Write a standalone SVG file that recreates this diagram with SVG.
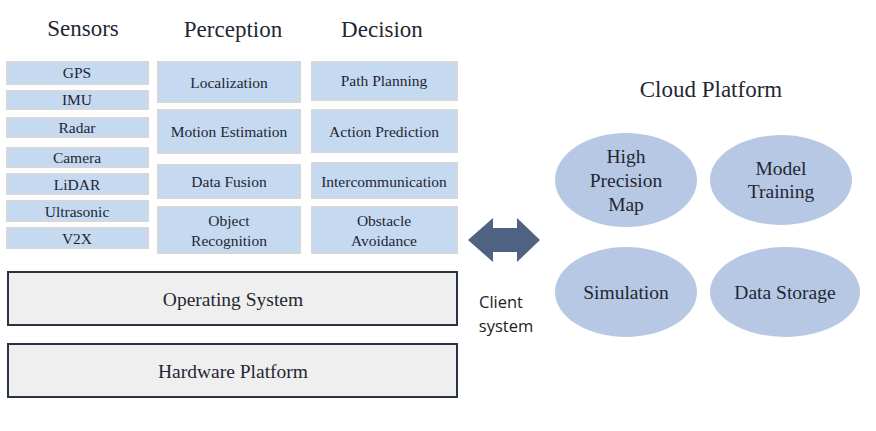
<svg xmlns="http://www.w3.org/2000/svg" width="876" height="431" viewBox="0 0 876 431">
<style>
.hdr{font-family:"Liberation Serif",serif;font-size:23px;fill:#1f2733;text-anchor:middle}
.box{fill:#c5d9f1;stroke:#d4d8dd;stroke-width:2}
.t{font-family:"Liberation Serif",serif;font-size:15.5px;fill:#1f2733;text-anchor:middle}
.big{fill:#efefef;stroke:#2b3443;stroke-width:2}
.bt{font-family:"Liberation Serif",serif;font-size:19.5px;fill:#1f2733;text-anchor:middle}
.ell{fill:#b7c8e4}
.et{font-family:"Liberation Serif",serif;font-size:19.5px;fill:#1f2733;text-anchor:middle}
.cs{font-family:"Open Sans","Liberation Sans",sans-serif;font-size:16.5px;fill:#222;text-anchor:middle}
</style>
<rect width="876" height="431" fill="#ffffff"/>
<text class="hdr" x="83" y="36">Sensors</text>
<text class="hdr" x="233" y="37">Perception</text>
<text class="hdr" x="382" y="37">Decision</text>

<g id="gps"><rect class="box" x="7" y="62" width="141" height="22"/><text class="t" x="77" y="78">GPS</text></g>
<g id="imu"><rect class="box" x="7" y="91" width="141" height="18"/><text class="t" x="77" y="105">IMU</text></g>
<g id="radar"><rect class="box" x="7" y="118" width="141" height="19"/><text class="t" x="77" y="133">Radar</text></g>
<g id="camera"><rect class="box" x="7" y="148" width="141" height="19"/><text class="t" x="77" y="163">Camera</text></g>
<g id="lidar"><rect class="box" x="7" y="174" width="141" height="20"/><text class="t" x="77" y="190">LiDAR</text></g>
<g id="ultrasonic"><rect class="box" x="7" y="201" width="141" height="20"/><text class="t" x="77" y="217">Ultrasonic</text></g>
<g id="v2x"><rect class="box" x="7" y="228" width="141" height="20"/><text class="t" x="77" y="244">V2X</text></g>

<g id="localization"><rect class="box" x="158" y="62" width="142" height="40"/><text class="t" x="229" y="88">Localization</text></g>
<g id="motion"><rect class="box" x="158" y="110" width="142" height="43"/><text class="t" x="229" y="137">Motion Estimation</text></g>
<g id="fusion"><rect class="box" x="158" y="165" width="142" height="33"/><text class="t" x="229" y="187">Data Fusion</text></g>
<g id="object"><rect class="box" x="158" y="207" width="142" height="46"/><text class="t" x="229" y="226">Object</text><text class="t" x="229" y="246">Recognition</text></g>

<g id="path"><rect class="box" x="312" y="62" width="145" height="38"/><text class="t" x="384" y="86">Path Planning</text></g>
<g id="action"><rect class="box" x="312" y="110" width="145" height="42"/><text class="t" x="384" y="137">Action Prediction</text></g>
<g id="intercom"><rect class="box" x="312" y="163" width="145" height="35"/><text class="t" x="384" y="187">Intercommunication</text></g>
<g id="obstacle"><rect class="box" x="312" y="207" width="145" height="46"/><text class="t" x="384" y="226">Obstacle</text><text class="t" x="384" y="246">Avoidance</text></g>

<g id="os"><rect class="big" x="8" y="272" width="449" height="53"/><text class="bt" x="233" y="306">Operating System</text></g>
<g id="hw"><rect class="big" x="8" y="344" width="449" height="53"/><text class="bt" x="233" y="378">Hardware Platform</text></g>

<g id="connectors">
<polygon points="468,240 493,218 493,228 517,228 517,218 540,240 517,262 517,252 493,252 493,262" fill="#4f6283"/>
</g>
<g id="client"><text class="cs" x="501" y="308">Client</text><text class="cs" x="506" y="332">system</text></g>

<text class="et" x="711" y="97" style="font-size:23px">Cloud Platform</text>
<g id="hpm"><ellipse class="ell" cx="626" cy="180" rx="71" ry="47"/><text class="et" x="626" y="163">High</text><text class="et" x="626" y="187">Precision</text><text class="et" x="626" y="211">Map</text></g>
<g id="model"><ellipse class="ell" cx="781" cy="180" rx="71" ry="45"/><text class="et" x="781" y="175">Model</text><text class="et" x="781" y="198">Training</text></g>
<g id="sim"><ellipse class="ell" cx="626" cy="292" rx="71" ry="45"/><text class="et" x="626" y="299">Simulation</text></g>
<g id="storage"><ellipse class="ell" cx="785" cy="292" rx="75" ry="45"/><text class="et" x="785" y="299">Data Storage</text></g>
</svg>
